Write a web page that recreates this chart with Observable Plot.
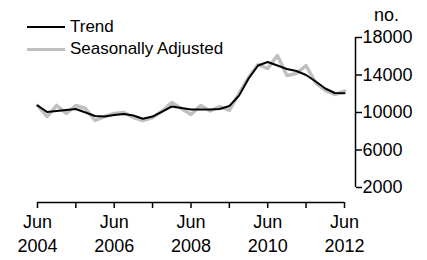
<!DOCTYPE html>
<html><head><meta charset="utf-8">
<script src="https://cdn.jsdelivr.net/npm/d3@7"></script>
<script src="https://cdn.jsdelivr.net/npm/@observablehq/plot@0.6"></script>
<style>
body{margin:0;background:#fff;font-family:"Liberation Sans",Arial,sans-serif;}
#wrap{position:relative;width:427px;height:260px;}
#legend{position:absolute;left:27px;top:16px;font-size:17px;color:#000;line-height:22px;}
#legend div{display:flex;align-items:center;}
#legend span.sw{display:inline-block;width:38px;margin-right:5px;}
</style></head>
<body><div id="wrap"><div id="legend"></div></div>
<script>
const startYear = 2004, startQuarterMonth = 5; // June
const trend = [10750,10050,10160,10270,10370,10000,9630,9570,9730,9840,9680,9330,9570,10100,10640,10480,10320,10320,10320,10370,10690,11800,13630,15010,15390,15010,14640,14430,14000,13310,12560,12080,12060];
const seasAdj = [10750,9570,10750,9890,10750,10430,9150,9570,9890,10000,9470,9150,9470,10160,11070,10430,9790,10750,10160,10640,10220,12030,13730,15120,14690,16080,13950,14160,15010,13150,12350,11920,12290];
const yTicks = [2000,6000,10000,14000,18000];
const tickYears = [2004,2005,2006,2007,2008,2009,2010,2011,2012];
const labelYears = [2004,2006,2008,2010,2012];
const seriesNames = ["Trend","Seasonally Adjusted"];
const seriesColors = ["#000000","#c0c0c0"];
const seriesWidths = [2,3.5];

const dateOf = i => new Date(Date.UTC(startYear, startQuarterMonth + 3*i, 1));
const rows = [];
trend.forEach((v,i)=>rows.push({date:dateOf(i), value:v, series:seriesNames[0]}));
seasAdj.forEach((v,i)=>rows.push({date:dateOf(i), value:v, series:seriesNames[1]}));
const tickDates = tickYears.map(y=>new Date(Date.UTC(y,5,1)));
const xMax = new Date(Date.UTC(2012,5,1));

const chart = Plot.plot({
  width:427, height:260,
  marginLeft:37, marginRight:83, marginTop:37, marginBottom:58,
  style:{fontFamily:"Liberation Sans, Arial, sans-serif", fontSize:"18px", background:"white", color:"black"},
  x:{type:"utc", domain:[new Date(Date.UTC(2004,5,1)), xMax]},
  y:{domain:[400,18000]},
  marks:[
    Plot.ruleY([400],{stroke:"black", strokeWidth:1.5}),
    Plot.axisX({ticks:tickDates, tickSize:6, tickPadding:3, strokeWidth:1.5, fontSize:18,
      tickFormat:d=> labelYears.includes(d.getUTCFullYear()) ? "Jun\n" + d.getUTCFullYear() : "", lineHeight:1.3, label:null}),
    Plot.ruleX([xMax],{y1:2000, y2:18000, dx:11, stroke:"black", strokeWidth:1.5}),
    Plot.axisY({anchor:"right", ticks:yTicks, tickSize:6, dx:11, tickPadding:1, strokeWidth:1.5, fontSize:18, tickFormat:d=>String(d), label:null}),
    Plot.text(["no."],{frameAnchor:"top-right", textAnchor:"middle", lineAnchor:"middle", dx:42, dy:-22, fontSize:18, text:d=>d}),
    Plot.line(rows.filter(d=>d.series===seriesNames[1]),{x:"date", y:"value", stroke:seriesColors[1], strokeWidth:seriesWidths[1]}),
    Plot.line(rows.filter(d=>d.series===seriesNames[0]),{x:"date", y:"value", stroke:seriesColors[0], strokeWidth:seriesWidths[0]})
  ]
});
document.getElementById("wrap").prepend(chart);
const lg = document.getElementById("legend");
seriesNames.forEach((n,i)=>{
  const d = document.createElement("div");
  d.innerHTML = `<span class="sw" style="border-top:${seriesWidths[i]}px solid ${seriesColors[i]}"></span>${n}`;
  lg.appendChild(d);
});
</script></body></html>
